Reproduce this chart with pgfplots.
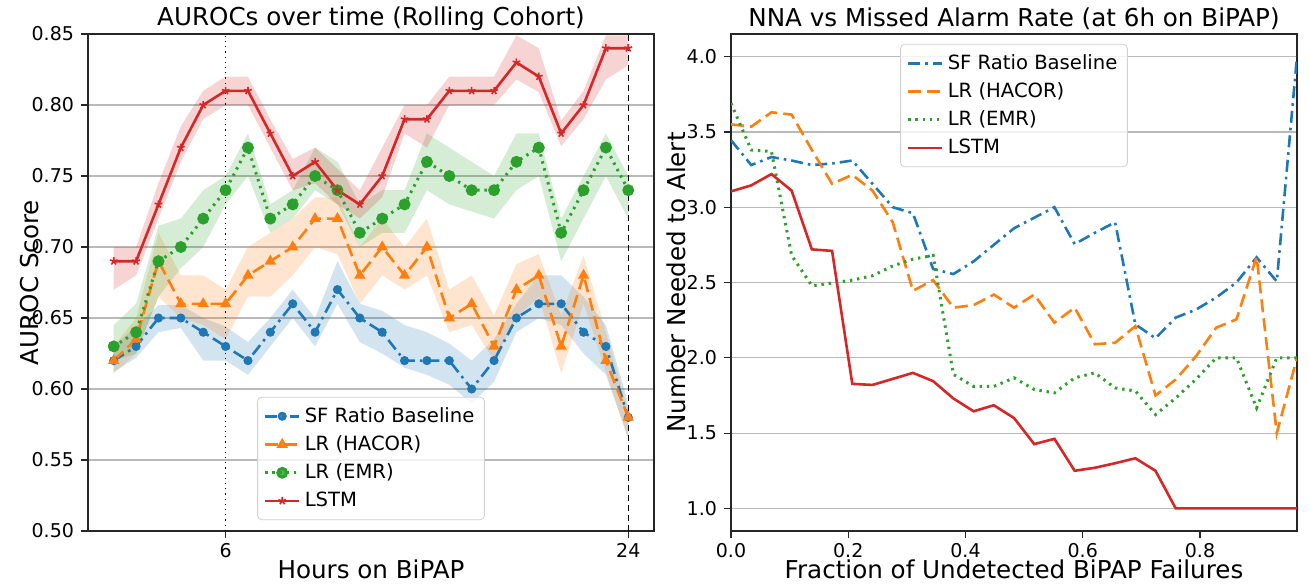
\documentclass[border=0pt]{standalone}
\usepackage{fontspec}
\setmainfont{DejaVu Sans}
\usepackage{pgfplots}
\usepackage{pgfplotstable}
\pgfplotsset{compat=1.18}
\usepgfplotslibrary{fillbetween}

\definecolor{cBlue}{HTML}{1F77B4}
\definecolor{cOrange}{HTML}{FF7F0E}
\definecolor{cGreen}{HTML}{2CA02C}
\definecolor{cRed}{HTML}{D62728}

% left panel: hour, value, lower band, upper band
\pgfplotstableread{
h  y     lo    hi
1  0.62  0.612 0.630
2  0.63  0.622 0.644
3  0.65  0.640 0.659
4  0.65  0.643 0.659
5  0.64  0.620 0.650
6  0.63  0.620 0.644
7  0.62  0.610 0.633
8  0.64  0.630 0.650
9  0.66  0.650 0.670
10 0.64  0.630 0.650
11 0.67  0.660 0.690
12 0.65  0.633 0.660
13 0.64  0.625 0.655
14 0.62  0.615 0.645
15 0.62  0.610 0.640
16 0.62  0.603 0.632
17 0.60  0.590 0.620
18 0.62  0.605 0.635
19 0.65  0.640 0.660
20 0.66  0.650 0.680
21 0.66  0.645 0.680
22 0.64  0.625 0.665
23 0.63  0.610 0.645
24 0.58  0.565 0.590
}\sfdata

\pgfplotstableread{
h  y     lo    hi
1  0.62  0.611 0.630
2  0.635 0.625 0.650
3  0.69  0.665 0.710
4  0.66  0.650 0.680
5  0.66  0.645 0.680
6  0.66  0.635 0.670
7  0.68  0.665 0.700
8  0.69  0.665 0.710
9  0.70  0.680 0.720
10 0.72  0.700 0.735
11 0.72  0.695 0.735
12 0.68  0.660 0.700
13 0.70  0.680 0.720
14 0.68  0.670 0.700
15 0.70  0.680 0.720
16 0.65  0.640 0.670
17 0.66  0.645 0.680
18 0.63  0.620 0.652
19 0.67  0.650 0.688
20 0.68  0.665 0.695
21 0.63  0.611 0.652
22 0.68  0.660 0.694
23 0.62  0.612 0.640
24 0.58  0.565 0.585
}\hacordata

\pgfplotstableread{
h  y     lo    hi
1  0.63  0.620 0.645
2  0.64  0.625 0.660
3  0.69  0.665 0.715
4  0.70  0.685 0.720
5  0.72  0.700 0.740
6  0.74  0.730 0.750
7  0.77  0.750 0.780
8  0.72  0.710 0.730
9  0.73  0.720 0.740
10 0.75  0.740 0.770
11 0.74  0.730 0.760
12 0.71  0.700 0.730
13 0.72  0.710 0.740
14 0.73  0.710 0.740
15 0.76  0.740 0.780
16 0.75  0.730 0.770
17 0.74  0.725 0.760
18 0.74  0.720 0.750
19 0.76  0.740 0.780
20 0.77  0.750 0.780
21 0.71  0.690 0.720
22 0.74  0.720 0.750
23 0.77  0.750 0.780
24 0.74  0.720 0.750
}\emrdata

\pgfplotstableread{
h  y     lo    hi
1  0.69  0.670 0.700
2  0.69  0.680 0.700
3  0.73  0.720 0.745
4  0.77  0.760 0.785
5  0.80  0.790 0.810
6  0.81  0.800 0.820
7  0.81  0.800 0.820
8  0.78  0.770 0.790
9  0.75  0.740 0.762
10 0.76  0.745 0.770
11 0.74  0.730 0.755
12 0.73  0.720 0.740
13 0.75  0.735 0.770
14 0.79  0.780 0.800
15 0.79  0.770 0.800
16 0.81  0.800 0.820
17 0.81  0.800 0.820
18 0.81  0.800 0.820
19 0.83  0.818 0.849
20 0.82  0.809 0.840
21 0.78  0.771 0.789
22 0.80  0.790 0.810
23 0.84  0.818 0.849
24 0.84  0.828 0.849
}\lstmdata

% right panel: fraction of undetected failures vs NNA
\pgfplotstableread{
x       sf     hacor  emr    lstm
0.0000  3.445  3.550  3.690  3.105
0.0345  3.280  3.535  3.380  3.145
0.0690  3.333  3.630  3.370  3.220
0.1034  3.310  3.615  2.680  3.110
0.1379  3.280  3.380  2.478  2.720
0.1724  3.290  3.155  2.496  2.710
0.2069  3.310  3.215  2.516  1.827
0.2414  3.155  3.110  2.545  1.820
0.2759  3.000  2.900  2.610  1.860
0.3103  2.960  2.445  2.655  1.900
0.3448  2.590  2.516  2.680  1.845
0.3793  2.556  2.333  1.890  1.730
0.4138  2.640  2.350  1.810  1.645
0.4483  2.750  2.420  1.810  1.685
0.4828  2.860  2.333  1.867  1.600
0.5172  2.930  2.420  1.790  1.427
0.5517  3.000  2.233  1.767  1.462
0.5862  2.755  2.333  1.867  1.250
0.6207  2.830  2.090  1.900  1.270
0.6552  2.900  2.100  1.800  1.300
0.6897  2.222  2.210  1.780  1.333
0.7241  2.130  1.750  1.623  1.250
0.7586  2.267  1.856  1.733  1.000
0.7931  2.320  2.010  1.857  1.000
0.8276  2.400  2.200  2.000  1.000
0.8621  2.500  2.255  2.000  1.000
0.8966  2.667  2.670  1.667  1.000
0.9310  2.507  1.500  2.000  1.000
0.9655  4.000  2.000  2.000  1.000
}\nnadata

\pgfplotsset{
  panel/.style={
    scale only axis, width=283pt, height=248.5pt,
    axis line style={black!85, line width=0.7pt},
    tick style={black!85, line width=0.6pt},
    tick align=outside, major tick length=3.5pt,
    xtick pos=bottom, ytick pos=left,
    ymajorgrids, grid style={gray!55, line width=0.6pt},
    /pgf/number format/assume math mode=true,
    ticklabel style={font=\fontsize{9.5}{11}\selectfont},
    xticklabel style={yshift=1pt},
    every axis title shift=0pt,
    title style={font=\fontsize{12.3}{15}\selectfont, at={(axis description cs:0.5,1.030)},
      anchor=center, yshift=0pt},
    xlabel style={font=\fontsize{12.3}{15}\selectfont, at={(axis description cs:0.5,-0.0765)},
      anchor=center, yshift=0pt},
    ylabel style={font=\fontsize{12.3}{15}\selectfont, anchor=center},
    legend style={font=\fontsize{9.8}{12}\selectfont, draw=black!18, rounded corners=2pt,
      fill=white, fill opacity=0.8, text opacity=1, row sep=1.2pt, inner sep=3pt},
    legend cell align=left,
  },
  sfline/.style={cBlue, line width=1.3pt, dash pattern=on 6pt off 2.5pt on 1.3pt off 2.5pt},
  hacorline/.style={cOrange, line width=1.3pt, dash pattern=on 6.5pt off 3pt},
  emrline/.style={cGreen, line width=1.5pt, dash pattern=on 1.2pt off 2.4pt},
  lstmline/.style={cRed, line width=1.3pt},
}

\begin{document}
\begin{tikzpicture}

\begin{axis}[panel, at={(0,0)},
  title={AUROCs over time (Rolling Cohort)},
  xlabel={Hours on BiPAP}, ylabel={AUROC Score},
  ylabel style={at={(axis description cs:-0.1025,0.5)}},
  xmin=-0.15, xmax=25.15, ymin=0.5, ymax=0.85,
  xtick={6,24},
  ytick={0.50,0.55,0.60,0.65,0.70,0.75,0.80,0.85},
  yticklabel style={/pgf/number format/.cd, fixed, fixed zerofill, precision=2},
  legend style={at={(0.5,0.022)}, anchor=south},
]
% confidence bands
\addplot[name path=sfh, draw=none, forget plot] table[x=h,y=hi]{\sfdata};
\addplot[name path=sfl, draw=none, forget plot] table[x=h,y=lo]{\sfdata};
\addplot[cBlue, fill opacity=0.2, forget plot] fill between[of=sfh and sfl];
\addplot[name path=hch, draw=none, forget plot] table[x=h,y=hi]{\hacordata};
\addplot[name path=hcl, draw=none, forget plot] table[x=h,y=lo]{\hacordata};
\addplot[cOrange, fill opacity=0.2, forget plot] fill between[of=hch and hcl];
\addplot[name path=emh, draw=none, forget plot] table[x=h,y=hi]{\emrdata};
\addplot[name path=eml, draw=none, forget plot] table[x=h,y=lo]{\emrdata};
\addplot[cGreen, fill opacity=0.2, forget plot] fill between[of=emh and eml];
\addplot[name path=lsh, draw=none, forget plot] table[x=h,y=hi]{\lstmdata};
\addplot[name path=lsl, draw=none, forget plot] table[x=h,y=lo]{\lstmdata};
\addplot[cRed, fill opacity=0.2, forget plot] fill between[of=lsh and lsl];

% reference hours
\addplot[black, line width=0.6pt, dotted, forget plot] coordinates {(6,0.5) (6,0.85)};
\addplot[black, line width=0.6pt, dash pattern=on 3pt off 2pt, forget plot] coordinates {(24,0.5) (24,0.85)};

\addplot[sfline, mark=*, mark size=1.6pt, mark options={solid}] table[x=h,y=y]{\sfdata};
\addlegendentry{SF Ratio Baseline}
\addplot[hacorline, mark=triangle*, mark size=2pt, mark options={solid}] table[x=h,y=y]{\hacordata};
\addlegendentry{LR (HACOR)}
\addplot[emrline, mark=*, mark size=2.2pt, mark options={solid}] table[x=h,y=y]{\emrdata};
\addlegendentry{LR (EMR)}
\addplot[lstmline, mark=star, mark size=2pt, mark options={solid, line width=0.8pt}] table[x=h,y=y]{\lstmdata};
\addlegendentry{LSTM}
\end{axis}

\begin{axis}[panel, at={(321.5pt,0)},
  title={NNA vs Missed Alarm Rate (at 6h on BiPAP)},
  xlabel={Fraction of Undetected BiPAP Failures}, ylabel={Number Needed to Alert},
  ylabel style={at={(axis description cs:-0.097,0.5)}},
  xmin=0, xmax=0.9655, ymin=0.85, ymax=4.15,
  xtick={0,0.2,0.4,0.6,0.8},
  ytick={1,1.5,2,2.5,3,3.5,4},
  xticklabel style={/pgf/number format/.cd, fixed, fixed zerofill, precision=1},
  yticklabel style={/pgf/number format/.cd, fixed, fixed zerofill, precision=1},
  legend style={at={(0.5,0.98)}, anchor=north},
]
\addplot[sfline] table[x=x,y=sf]{\nnadata};
\addlegendentry{SF Ratio Baseline}
\addplot[hacorline] table[x=x,y=hacor]{\nnadata};
\addlegendentry{LR (HACOR)}
\addplot[emrline] table[x=x,y=emr]{\nnadata};
\addlegendentry{LR (EMR)}
\addplot[lstmline] table[x=x,y=lstm]{\nnadata};
\addlegendentry{LSTM}
\end{axis}

\pgfresetboundingbox
\useasboundingbox (-44pt,-27pt) rectangle (610.5pt,265.5pt);
\end{tikzpicture}
\end{document}
